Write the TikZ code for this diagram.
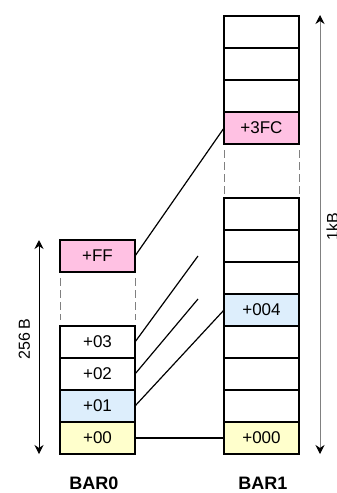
\documentclass[tikz,border=0pt]{standalone}
\usepackage{fontspec}
\setmainfont{Liberation Sans}
\usetikzlibrary{arrows.meta}
\definecolor{cpink}{HTML}{FFC1E3}
\definecolor{cblue}{HTML}{DDEEFC}
\definecolor{cyellow}{HTML}{FFFFCC}
\definecolor{cgray}{HTML}{808080}
\tikzset{
  cell/.style={draw=black, line width=1.2pt, minimum width=75pt, minimum height=32pt,
    inner sep=0pt, outer sep=0pt, font=\fontsize{17}{17}\selectfont},
  link/.style={draw=black, line width=1.2pt},
  gap/.style={draw=cgray, line width=1pt, dash pattern=on 8pt off 4pt},
  tipk/.style={Stealth[length=9pt,width=9pt,inset=3pt,color=black]},
  dimarrow/.style={line width=1pt, {Stealth[length=9pt,width=9pt,inset=3pt,color=black]}-{Stealth[length=9pt,width=9pt,inset=3pt,color=black]}},
  barlabel/.style={font=\bfseries\fontsize{18}{18}\selectfont},
  dimlabel/.style={font=\fontsize{16}{16}\selectfont, rotate=90, anchor=base, inner sep=0pt}
}
\begin{document}
\begin{tikzpicture}[x=1pt,y=-1pt]
\useasboundingbox[fill=white] (0,0) rectangle (337,493);
% BAR0
\node[cell, fill=cpink]   (aFF) at (97.5,256) {+FF};
\node[cell, fill=white]   (a03) at (97.5,342) {+03};
\node[cell, fill=white]   (a02) at (97.5,374) {+02};
\node[cell, fill=cblue]   (a01) at (97.5,406) {+01};
\node[cell, fill=cyellow] (a00) at (97.5,438) {+00};
\draw[gap] (aFF.south west) ++(0,6) -- ++(0,42);
\draw[gap] (aFF.south east) ++(0,6) -- ++(0,42);
% BAR1
\node[cell] (u1) at (261.5,32) {};
\node[cell] (u2) at (261.5,64) {};
\node[cell] (u3) at (261.5,96) {};
\node[cell, fill=cpink] (b3FC) at (261.5,128) {+3FC};
\node[cell] (l1) at (261.5,214) {};
\node[cell] (l2) at (261.5,246) {};
\node[cell] (l3) at (261.5,278) {};
\node[cell, fill=cblue] (b004) at (261.5,310) {+004};
\node[cell] (l5) at (261.5,342) {};
\node[cell] (l6) at (261.5,374) {};
\node[cell] (l7) at (261.5,406) {};
\node[cell, fill=cyellow] (b000) at (261.5,438) {+000};
\draw[gap] (b3FC.south west) ++(0,6) -- ++(0,46);
\draw[gap] (b3FC.south east) ++(0,6) -- ++(0,46);
% connectors
\coordinate (e3) at (198,256);
\coordinate (e2) at (198,299);
\draw[link] (aFF.east) -- (b3FC.west);
\draw[link] (a03.east) -- (e3);
\draw[link] (a02.east) -- (e2);
\draw[link] (a01.east) -- (b004.west);
\draw[link] (a00.east) -- (b000.west);
% dimension arrows
\coordinate (d0t) at (39,240);
\coordinate (d0b) at (39,454);
\draw[dimarrow, draw=black] (d0b) -- (d0t);
\node[dimlabel] (l256) at (30,339) {256\,B};
\coordinate (d1t) at (320,15);
\coordinate (d1b) at (320,454);
\draw[dimarrow, draw=cgray] (d1b) -- (d1t);
\node[dimlabel] (l1k) at (338,227) {1kB};
% labels
\node[barlabel] (n0) at (94,483) {BAR0};
\node[barlabel] (n1) at (263,483) {BAR1};
\end{tikzpicture}
\end{document}
